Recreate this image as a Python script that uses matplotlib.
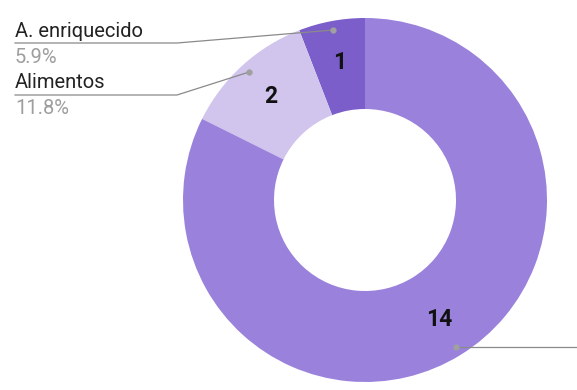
import matplotlib.pyplot as plt
import numpy as np

labels = ["A. enriquecido", "Alimentos", ""]
values = [1, 2, 14]
colors = ["#7b5ec9", "#d1c5ed", "#9a82dc"]

W, H = 577, 390
fig = plt.figure(figsize=(W / 100, H / 100), dpi=100)
ax = fig.add_axes([0, 0, 1, 1])

cx, cy = 365, H - 200
R = 182
wedges, _ = ax.pie(values, colors=colors, startangle=90, counterclock=True,
                   radius=R, center=(cx, cy),
                   wedgeprops=dict(width=R * 0.5, linewidth=0))
ax.set_xlim(0, W)
ax.set_ylim(0, H)
ax.set_aspect("equal")
ax.axis("off")

total = sum(values)
# label rows (pixel y from top) for the left-side labels
rows = [(37, 43, 63), (88, 95, 114)]
line_c = "#8a8a8a"

for i, w in enumerate(wedges):
    mid = np.deg2rad((w.theta1 + w.theta2) / 2)
    # value inside ring
    rt = R * 0.77
    ax.text(cx + rt * np.cos(mid), cy + rt * np.sin(mid), str(values[i]),
            ha="center", va="center", fontsize=16.5, fontweight="bold",
            family="Roboto", color="#111111")
    rp = R * 0.95
    px, py = cx + rp * np.cos(mid), cy + rp * np.sin(mid)
    ax.plot(px, py, "o", ms=3.5, color="#a0a0a0", zorder=5)
    if i < 2:
        tb, ly, pb = rows[i]
        ax.plot([px, 177, 15], [py, H - ly, H - ly], color=line_c, lw=0.9)
        ax.text(15, H - tb, labels[i], ha="left", va="baseline",
                fontsize=14.5, family="Roboto", color="#222222")
        ax.text(15, H - pb, "%.1f%%" % (values[i] / total * 100), ha="left",
                va="baseline", fontsize=14.5, family="Roboto", color="#9e9e9e")
    else:
        ax.plot([px, W + 20], [py, py], color=line_c, lw=0.9)

fig.savefig("out.png", dpi=100)
